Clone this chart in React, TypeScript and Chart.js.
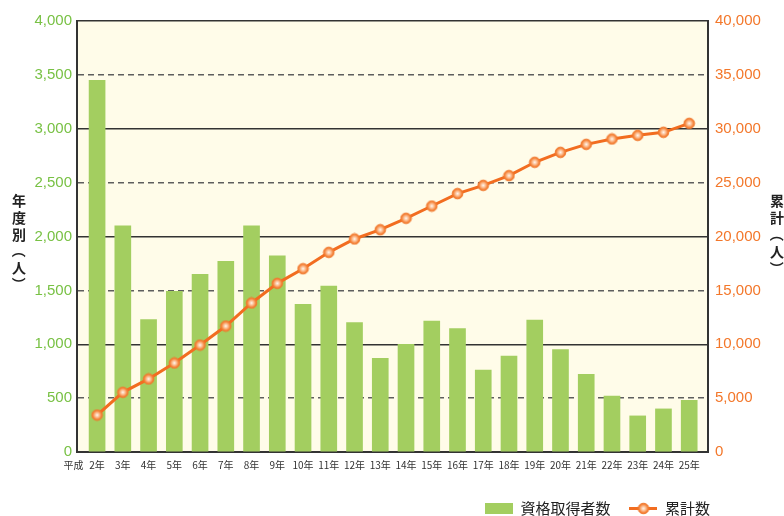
import React, { useEffect, useRef } from 'react';
import { Chart, registerables } from 'chart.js';

Chart.register(...registerables);

// ---- data ----
const categories = [
  '2年', '3年', '4年', '5年', '6年', '7年', '8年', '9年', '10年', '11年', '12年', '13年',
  '14年', '15年', '16年', '17年', '18年', '19年', '20年', '21年', '22年', '23年', '24年', '25年',
];
const eraLabel = '平成';
const annualCounts = [
  3450, 2100, 1230, 1490, 1650, 1770, 2100, 1820, 1370, 1540, 1200, 870,
  1000, 1215, 1145, 760, 890, 1225, 950, 720, 520, 335, 400, 480,
];
const cumulativeCounts = [
  3430, 5540, 6780, 8260, 9930, 11690, 13830, 15650, 17010, 18530, 19770, 20630,
  21690, 22830, 23980, 24750, 25650, 26890, 27810, 28550, 29050, 29390, 29670, 30500,
];
const leftAxisMax = 4000;
const leftAxisStep = 500;
const rightAxisMax = 40000;
const rightAxisStep = 5000;
const barLabel = '資格取得者数';
const lineLabel = '累計数';
const leftTitle = ['年', '度', '別', '（', '人', '）'];
const rightTitle = ['累', '計', '（', '人', '）'];

// ---- styles ----
const BAR_COLOR = '#a3ce60';
const LINE_COLOR = '#f26d20';
const LEFT_TICK_COLOR = '#78c144';
const RIGHT_TICK_COLOR = '#f3772a';
const PLOT_BG = '#fffce9';
const NUM_FONT = '"Liberation Sans", Arial, sans-serif';
const CJK_FONT = '"Noto Sans CJK JP", "Noto Sans", sans-serif';

function drawMarker(g: CanvasRenderingContext2D, cx: number, cy: number) {
  const grad = g.createRadialGradient(cx, cy, 0, cx, cy, 5.5);
  grad.addColorStop(0, '#fff7f0');
  grad.addColorStop(0.35, '#fdc7a0');
  grad.addColorStop(0.75, '#f6873f');
  grad.addColorStop(1, '#ef6c1e');
  g.fillStyle = grad;
  g.beginPath();
  g.arc(cx, cy, 5.3, 0, Math.PI * 2);
  g.fill();
  g.lineWidth = 1;
  g.strokeStyle = '#f07a30';
  g.stroke();
}

function makeMarker(): HTMLCanvasElement {
  const c = document.createElement('canvas');
  c.width = 13;
  c.height = 13;
  const g = c.getContext('2d')!;
  drawMarker(g, 6.5, 6.5);
  return c;
}

function makeLegendLine(): HTMLCanvasElement {
  const c = document.createElement('canvas');
  c.width = 28;
  c.height = 13;
  const g = c.getContext('2d')!;
  g.strokeStyle = LINE_COLOR;
  g.lineWidth = 3;
  g.beginPath();
  g.moveTo(0, 6.5);
  g.lineTo(28, 6.5);
  g.stroke();
  drawMarker(g, 14, 6.5);
  return c;
}

const isMinor = (ctx: any) => !!ctx.tick && ctx.tick.value % 1000 !== 0;

function drawVerticalTitle(ctx: CanvasRenderingContext2D, chars: string[], x: number, y0: number, pitch: number) {
  chars.forEach((ch, i) => {
    const y = y0 + i * pitch;
    if (ch === '（' || ch === '）') {
      ctx.save();
      ctx.translate(x, y);
      ctx.rotate(Math.PI / 2);
      ctx.fillText(ch, 0, 0);
      ctx.restore();
    } else {
      ctx.fillText(ch, x, y);
    }
  });
}

export default function App() {
  const ref = useRef<HTMLCanvasElement>(null);

  useEffect(() => {
    document.body.style.margin = '0';
    const canvas = ref.current!;
    const marker = makeMarker();
    const legendLine = makeLegendLine();

    const bgPlugin = {
      id: 'plotBg',
      beforeDraw(chart: any) {
        const { ctx, chartArea } = chart;
        ctx.save();
        ctx.fillStyle = PLOT_BG;
        ctx.fillRect(chartArea.left, chartArea.top, chartArea.right - chartArea.left, chartArea.bottom - chartArea.top);
        ctx.restore();
      },
      afterLayout(chart: any) {
        const lg = chart.legend;
        if (lg) {
          lg.right = chart.chartArea.right + 21;
          lg.width = lg.right - lg.left;
        }
      },
    };

    const textPlugin = {
      id: 'extraText',
      afterDraw(chart: any) {
        const { ctx, chartArea, scales } = chart;
        ctx.save();
        ctx.fillStyle = '#222';
        ctx.textAlign = 'center';
        ctx.textBaseline = 'middle';
        ctx.font = `bold 14px ${CJK_FONT}`;
        const startY = chartArea.top + 180;
        drawVerticalTitle(ctx, leftTitle, 19, startY, 16.6);
        drawVerticalTitle(ctx, rightTitle, 777, startY, 16.8);
        ctx.font = `10px ${CJK_FONT}`;
        ctx.fillStyle = '#333';
        ctx.fillText(eraLabel, scales.x.getPixelForValue(0) - 23.5, chartArea.bottom + 13);
        ctx.restore();
      },
    };

    const chart = new Chart(canvas, {
      type: 'bar',
      data: {
        labels: categories.map((_, i) => i),
        datasets: [
          {
            type: 'line',
            label: lineLabel,
            data: cumulativeCounts,
            yAxisID: 'y1',
            borderColor: LINE_COLOR,
            borderWidth: 3,
            tension: 0,
            pointStyle: marker as any,
            pointRadius: 6,
            pointHoverRadius: 6,
          } as any,
          {
            type: 'bar',
            label: barLabel,
            data: annualCounts,
            yAxisID: 'y',
            backgroundColor: BAR_COLOR,
            borderWidth: 0,
            barThickness: 16,
          } as any,
        ],
      },
      options: {
        responsive: false,
        devicePixelRatio: 1,
        animation: false,
        layout: { padding: { top: 21, left: 0, right: 0, bottom: 0 } },
        plugins: {
          tooltip: { enabled: false },
          legend: {
            position: 'bottom',
            align: 'end',
            maxHeight: 34,
            labels: {
              usePointStyle: true,
              pointStyleWidth: 28,
              boxHeight: 11,
              padding: 19,
              color: '#222',
              font: { family: CJK_FONT, size: 15 },
              generateLabels: () => [
                {
                  text: barLabel,
                  fillStyle: BAR_COLOR,
                  strokeStyle: BAR_COLOR,
                  lineWidth: 0,
                  pointStyle: 'rect',
                  datasetIndex: 1,
                  hidden: false,
                  fontColor: '#222',
                } as any,
                {
                  text: lineLabel,
                  fillStyle: LINE_COLOR,
                  strokeStyle: LINE_COLOR,
                  lineWidth: 0,
                  pointStyle: legendLine,
                  datasetIndex: 0,
                  hidden: false,
                  fontColor: '#222',
                } as any,
              ],
            },
          },
        },
        scales: {
          x: {
            type: 'linear',
            offset: false,
            min: -0.78,
            max: 23.73,
            afterFit: (s: any) => { s.height = 30; },
            grid: { display: false, drawTicks: false },
            border: { display: true, color: '#333', width: 2 },
            ticks: {
              stepSize: 1,
              includeBounds: false,
              autoSkip: false,
              maxRotation: 0,
              minRotation: 0,
              padding: 7,
              color: '#333',
              font: { family: CJK_FONT, size: 10 },
              callback: (v: any) => {
                const n = Number(v);
                return Number.isInteger(n) && n >= 0 && n < categories.length ? categories[n] : '';
              },
            },
          } as any,
          y: {
            position: 'left',
            min: 0,
            max: leftAxisMax,
            afterFit: (s: any) => { s.width = 77; },
            grid: {
              drawTicks: false,
              lineWidth: 1.5,
              color: (ctx: any) => (isMinor(ctx) ? '#5e5e5e' : '#333'),
            },
            border: {
              display: true,
              color: '#333',
              width: 2,
              dash: (ctx: any) => (isMinor(ctx) ? [6, 4] : []),
            },
            ticks: {
              stepSize: leftAxisStep,
              padding: 5,
              color: LEFT_TICK_COLOR,
              font: { family: NUM_FONT, size: 15 },
              callback: (v: any) => Number(v).toLocaleString('en-US'),
            },
          } as any,
          y1: {
            position: 'right',
            min: 0,
            max: rightAxisMax,
            afterFit: (s: any) => { s.width = 76; },
            grid: { drawOnChartArea: false, drawTicks: false },
            border: { display: true, color: '#333', width: 2 },
            ticks: {
              stepSize: rightAxisStep,
              padding: 7,
              color: RIGHT_TICK_COLOR,
              font: { family: NUM_FONT, size: 15 },
              callback: (v: any) => Number(v).toLocaleString('en-US'),
            },
          } as any,
        },
      },
      plugins: [bgPlugin, textPlugin],
    } as any);

    return () => chart.destroy();
  }, []);

  return (
    <canvas
      ref={ref}
      width={784}
      height={516}
      style={{ display: 'block', width: 784, height: 516 }}
    />
  );
}
